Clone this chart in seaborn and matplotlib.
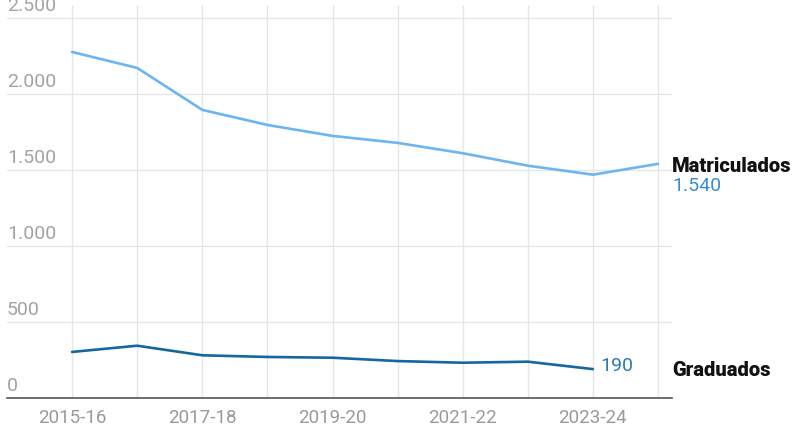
import matplotlib
matplotlib.use("Agg")
import matplotlib.pyplot as plt
import matplotlib.transforms as mtransforms
import pandas as pd
import seaborn as sns

# ── Data ──────────────────────────────────────────────────────────────────────
cursos = ["2015-16", "2016-17", "2017-18", "2018-19", "2019-20",
          "2020-21", "2021-22", "2022-23", "2023-24", "2024-25"]
matriculados = [2276, 2171, 1895, 1796, 1724, 1678, 1610, 1528, 1469, 1540]
graduados = [303, 344, 281, 270, 265, 243, 232, 239, 190]
yticks = [0, 500, 1000, 1500, 2000, 2500]
xtick_labels = ["2015-16", "2017-18", "2019-20", "2021-22", "2023-24"]

df = pd.concat([
    pd.DataFrame({"pos": range(len(matriculados)), "valor": matriculados,
                  "serie": "Matriculados"}),
    pd.DataFrame({"pos": range(len(graduados)), "valor": graduados,
                  "serie": "Graduados"}),
])

light_blue = "#6db5f0"
dark_blue = "#14689f"

sns.set_theme(style="white")
plt.rcParams["font.family"] = ["Roboto", "DejaVu Sans"]

fig = plt.figure(figsize=(8, 4.45), dpi=100)
ax = fig.add_axes([0.00875, 0.1056, 0.83125, 0.8832])

sns.lineplot(data=df, x="pos", y="valor", hue="serie",
             palette={"Matriculados": light_blue, "Graduados": dark_blue},
             linewidth=1.9, legend=False, ax=ax)

ax.set_xlim(-1, 9.215)
ax.set_ylim(0, 2585)

# gridlines
ax.set_xticks(range(len(cursos)))
ax.set_yticks(yticks)
ax.grid(True, color="#e6e6e6", linewidth=1)
ax.set_axisbelow(True)
for s in ["top", "right", "left"]:
    ax.spines[s].set_visible(False)
ax.spines["bottom"].set_color("#555555")
ax.spines["bottom"].set_linewidth(1.2)

ax.set_xticklabels([c if c in xtick_labels else "" for c in cursos])
ax.tick_params(axis="x", length=0, pad=8, labelsize=13.5, labelcolor="#9a9a9a")
ax.tick_params(axis="y", length=0, labelleft=False)
ax.set_xlabel("")
ax.set_ylabel("")

# y labels above the gridlines (the top one is cut by the edge, as in the original)
ytrans = mtransforms.blended_transform_factory(ax.transAxes, ax.transData)
for v in yticks:
    lbl = f"{v:,}".replace(",", ".")
    ax.annotate(lbl, xy=(0, v), xycoords=ytrans, xytext=(0, 5),
                textcoords="offset points", ha="left", va="baseline",
                fontsize=14, color="#a3a3a3", annotation_clip=False)

# series labels
last_m = len(matriculados) - 1
last_g = len(graduados) - 1
ax.annotate("Matriculados", xy=(1, matriculados[last_m]), xycoords=ytrans,
            xytext=(0, -2), textcoords="offset points", ha="left", va="center",
            fontsize=14.5, fontweight="black", color="#111111",
            annotation_clip=False)
ax.annotate(f"{matriculados[last_m]:,}".replace(",", "."),
            xy=(1, matriculados[last_m]), xycoords=ytrans,
            xytext=(0, -16), textcoords="offset points", ha="left",
            va="center", fontsize=14, color="#3a8dd0", annotation_clip=False)
ax.annotate("Graduados", xy=(1, graduados[last_g]), xycoords=ytrans,
            xytext=(0, -1), textcoords="offset points", ha="left", va="center",
            fontsize=14.5, fontweight="black", color="#111111",
            annotation_clip=False)
ax.annotate(str(graduados[last_g]), xy=(last_g, graduados[last_g]),
            xytext=(5, 2), textcoords="offset points", ha="left", va="center",
            fontsize=14, color="#2a7bb2", annotation_clip=False)

fig.savefig("out.png", dpi=100)
